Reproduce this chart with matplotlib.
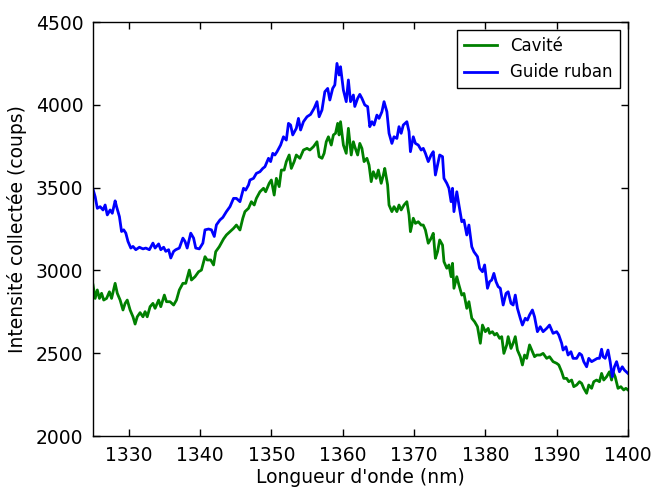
import matplotlib
matplotlib.use("Agg")
import matplotlib.pyplot as plt

# wavelengths (nm) and counts, one pair of lists per curve
x_cavite = [1325.0, 1325.3, 1325.6, 1325.9, 1326.2, 1326.5, 1326.9, 1327.3, 1327.6, 1328.1,
            1328.4, 1328.8, 1329.2, 1329.5, 1329.8, 1330.2, 1330.6, 1330.9, 1331.2, 1331.6,
            1332.0, 1332.3, 1332.6, 1333.0, 1333.4, 1333.7, 1334.2, 1334.5, 1335.0, 1335.3,
            1335.8, 1336.3, 1336.7, 1337.1, 1337.6, 1338.0, 1338.5, 1338.8, 1339.3, 1339.8,
            1340.2, 1340.7, 1341.0, 1341.5, 1341.9, 1342.2, 1342.7, 1343.3, 1343.7, 1344.2,
            1344.7, 1345.1, 1345.6, 1346.0, 1346.3, 1346.8, 1347.2, 1347.6, 1347.9, 1348.4,
            1348.9, 1349.2, 1349.7, 1350.0, 1350.4, 1350.7, 1351.1, 1351.4, 1351.8, 1352.1,
            1352.5, 1352.8, 1353.2, 1353.5, 1354.0, 1354.5, 1355.0, 1355.4, 1355.9, 1356.4,
            1356.7, 1357.1, 1357.4, 1357.7, 1358.0, 1358.4, 1358.7, 1359.0, 1359.3, 1359.5,
            1359.7, 1360.1, 1360.5, 1360.8, 1361.2, 1361.5, 1361.7, 1362.1, 1362.4, 1362.7,
            1363.0, 1363.4, 1363.7, 1364.0, 1364.3, 1364.7, 1365.0, 1365.4, 1365.7, 1365.9,
            1366.3, 1366.5, 1366.9, 1367.2, 1367.6, 1367.9, 1368.2, 1368.6, 1369.0, 1369.3,
            1369.5, 1369.9, 1370.2, 1370.6, 1371.0, 1371.3, 1371.6, 1372.0, 1372.4, 1372.7,
            1373.0, 1373.3, 1373.6, 1374.0, 1374.2, 1374.6, 1374.9, 1375.2, 1375.4, 1375.6,
            1376.0, 1376.3, 1376.7, 1377.0, 1377.4, 1377.7, 1378.1, 1378.5, 1378.9, 1379.3,
            1379.6, 1380.0, 1380.4, 1380.6, 1381.0, 1381.3, 1381.6, 1382.0, 1382.3, 1382.6,
            1383.0, 1383.2, 1383.6, 1383.9, 1384.2, 1384.5, 1384.9, 1385.2, 1385.5, 1385.8,
            1386.2, 1386.6, 1386.9, 1387.2, 1387.7, 1388.1, 1388.6, 1389.0, 1389.5, 1390.0,
            1390.3, 1390.7, 1391.0, 1391.4, 1391.7, 1392.1, 1392.4, 1392.8, 1393.2, 1393.5,
            1393.8, 1394.2, 1394.5, 1394.9, 1395.2, 1395.6, 1396.0, 1396.3, 1396.6, 1397.0,
            1397.4, 1397.7, 1397.9, 1398.2, 1398.6, 1399.0, 1399.4, 1399.7, 1400.0]
y_cavite = [2912, 2831, 2882, 2831, 2862, 2821, 2831, 2871, 2831, 2922,
            2862, 2821, 2761, 2801, 2821, 2761, 2720, 2676, 2720, 2745,
            2720, 2751, 2720, 2781, 2801, 2771, 2821, 2781, 2851, 2811,
            2811, 2791, 2821, 2882, 2922, 2922, 3002, 2942, 2962, 2992,
            3002, 3083, 3063, 3063, 3033, 3113, 3143, 3190, 3214, 3234,
            3254, 3274, 3244, 3315, 3355, 3375, 3415, 3395, 3435, 3475,
            3496, 3475, 3526, 3546, 3455, 3556, 3506, 3606, 3606, 3657,
            3697, 3616, 3657, 3697, 3677, 3727, 3737, 3727, 3747, 3777,
            3687, 3677, 3707, 3777, 3807, 3757, 3818, 3828, 3888, 3818,
            3898, 3757, 3707, 3858, 3697, 3777, 3747, 3697, 3767, 3737,
            3657, 3677, 3636, 3536, 3596, 3556, 3606, 3526, 3576, 3616,
            3516, 3395, 3355, 3385, 3355, 3395, 3365, 3395, 3415, 3335,
            3234, 3315, 3284, 3294, 3274, 3274, 3244, 3164, 3194, 3224,
            3073, 3113, 3184, 3153, 3053, 3013, 3033, 2962, 3043, 2892,
            2962, 2912, 2851, 2861, 2771, 2811, 2711, 2690, 2660, 2560,
            2670, 2630, 2650, 2620, 2630, 2610, 2620, 2590, 2600, 2499,
            2550, 2600, 2529, 2560, 2600, 2519, 2479, 2429, 2489, 2469,
            2550, 2509, 2479, 2489, 2489, 2499, 2469, 2479, 2449, 2439,
            2429, 2388, 2348, 2348, 2328, 2338, 2298, 2308, 2328, 2318,
            2288, 2258, 2308, 2288, 2328, 2338, 2328, 2378, 2338, 2358,
            2388, 2338, 2388, 2358, 2288, 2298, 2278, 2288, 2278]

x_guide = [1325.0, 1325.3, 1325.6, 1326.0, 1326.4, 1326.7, 1327.0, 1327.4, 1327.7, 1328.1,
           1328.3, 1328.7, 1329.0, 1329.3, 1329.6, 1329.9, 1330.3, 1330.6, 1331.0, 1331.5,
           1332.0, 1332.4, 1332.9, 1333.4, 1333.7, 1334.2, 1334.5, 1334.9, 1335.2, 1335.6,
           1335.9, 1336.3, 1336.6, 1337.1, 1337.6, 1337.9, 1338.2, 1338.7, 1339.1, 1339.4,
           1339.9, 1340.4, 1340.7, 1341.2, 1341.6, 1342.0, 1342.3, 1342.8, 1343.2, 1343.7,
           1344.2, 1344.7, 1345.1, 1345.6, 1346.1, 1346.4, 1346.8, 1347.0, 1347.5, 1347.9,
           1348.4, 1348.8, 1349.1, 1349.6, 1349.9, 1350.2, 1350.5, 1350.8, 1351.3, 1351.7,
           1352.1, 1352.4, 1352.7, 1353.0, 1353.5, 1353.8, 1354.1, 1354.5, 1355.0, 1355.5,
           1356.0, 1356.4, 1356.7, 1357.1, 1357.5, 1357.9, 1358.2, 1358.6, 1358.9, 1359.2,
           1359.5, 1359.7, 1360.1, 1360.5, 1360.8, 1361.1, 1361.5, 1361.7, 1362.1, 1362.4,
           1362.7, 1363.1, 1363.5, 1363.8, 1364.1, 1364.4, 1364.8, 1365.1, 1365.5, 1365.8,
           1366.2, 1366.5, 1366.9, 1367.2, 1367.6, 1367.9, 1368.2, 1368.5, 1369.0, 1369.3,
           1369.5, 1369.9, 1370.2, 1370.6, 1371.0, 1371.3, 1371.6, 1372.0, 1372.4, 1372.7,
           1373.0, 1373.3, 1373.6, 1374.0, 1374.2, 1374.6, 1374.9, 1375.2, 1375.4, 1375.6,
           1376.0, 1376.3, 1376.7, 1377.0, 1377.4, 1377.7, 1378.1, 1378.4, 1378.9, 1379.2,
           1379.6, 1379.9, 1380.3, 1380.6, 1380.9, 1381.2, 1381.5, 1381.8, 1382.1, 1382.5,
           1382.9, 1383.2, 1383.6, 1383.9, 1384.2, 1384.5, 1384.9, 1385.2, 1385.6, 1385.9,
           1386.2, 1386.6, 1386.9, 1387.3, 1387.7, 1388.1, 1388.6, 1389.0, 1389.5, 1390.0,
           1390.3, 1390.7, 1390.9, 1391.3, 1391.6, 1392.0, 1392.3, 1392.8, 1393.2, 1393.5,
           1393.8, 1394.2, 1394.5, 1394.9, 1395.3, 1395.7, 1396.0, 1396.3, 1396.5, 1396.8,
           1397.2, 1397.5, 1397.8, 1398.1, 1398.4, 1398.8, 1399.2, 1399.5, 1400.0]
y_guide = [3490, 3445, 3375, 3385, 3365, 3395, 3335, 3365, 3345, 3420,
           3385, 3325, 3235, 3245, 3225, 3175, 3135, 3145, 3125, 3140,
           3130, 3135, 3125, 3165, 3135, 3160, 3125, 3140, 3115, 3125,
           3075, 3115, 3125, 3135, 3195, 3175, 3135, 3225, 3195, 3135,
           3130, 3165, 3245, 3250, 3245, 3205, 3275, 3305, 3320, 3355,
           3385, 3435, 3435, 3415, 3496, 3485, 3516, 3546, 3556, 3586,
           3596, 3616, 3626, 3677, 3657, 3707, 3697, 3717, 3757, 3807,
           3787, 3888, 3878, 3818, 3858, 3918, 3848, 3898, 3928, 3942,
           3979, 4019, 3928, 3969, 4079, 4099, 4029, 4099, 4120, 4250,
           4180, 4230, 4089, 4019, 4150, 4019, 4059, 3990, 4039, 4063,
           4039, 3999, 3989, 3868, 3898, 3878, 3938, 3918, 3958, 4019,
           3958, 3828, 3767, 3807, 3797, 3868, 3828, 3878, 3898, 3838,
           3717, 3807, 3767, 3757, 3727, 3737, 3707, 3657, 3697, 3717,
           3576, 3636, 3697, 3687, 3556, 3526, 3496, 3415, 3496, 3355,
           3475, 3395, 3294, 3304, 3214, 3274, 3143, 3113, 3083, 3013,
           2992, 3033, 2892, 2932, 2942, 2982, 2932, 2902, 2892, 2791,
           2861, 2871, 2801, 2791, 2851, 2771, 2711, 2670, 2711, 2700,
           2731, 2761, 2720, 2630, 2660, 2630, 2650, 2670, 2620, 2630,
           2610, 2560, 2519, 2539, 2489, 2509, 2469, 2469, 2499, 2489,
           2449, 2418, 2469, 2449, 2459, 2469, 2469, 2524, 2479, 2469,
           2519, 2449, 2358, 2418, 2449, 2388, 2418, 2398, 2378]

x_ticks = [1330, 1340, 1350, 1360, 1370, 1380, 1390, 1400]
y_ticks = [2000, 2500, 3000, 3500, 4000, 4500]

fig = plt.figure(figsize=(6.56, 4.87), dpi=100)
ax = fig.add_axes([0.1418, 0.1047, 0.8155, 0.8501])

ax.plot(x_cavite, y_cavite, color=(0, 0.5, 0), lw=2, label=u"Cavité")
ax.plot(x_guide, y_guide, color=(0, 0, 1), lw=2, label="Guide ruban")

ax.set_xlim(1325, 1400)
ax.set_ylim(2000, 4500)
ax.set_xticks(x_ticks)
ax.set_yticks(y_ticks)
ax.ticklabel_format(useOffset=False)
ax.tick_params(direction="in", top=True, right=True, length=5, width=1,
               labelsize=13.5, pad=7)
for s in ax.spines.values():
    s.set_linewidth(1)

ax.set_xlabel("Longueur d'onde (nm)", fontsize=13.5, labelpad=2)
ax.set_ylabel(u"Intensité collectée (coups)", fontsize=13.5, labelpad=6)

leg = ax.legend(loc="upper right", fontsize=12, fancybox=False, framealpha=1,
                edgecolor="black", borderaxespad=0.5, handlelength=2)
leg.get_frame().set_linewidth(1)

fig.savefig("out.png", dpi=100, facecolor="white")
